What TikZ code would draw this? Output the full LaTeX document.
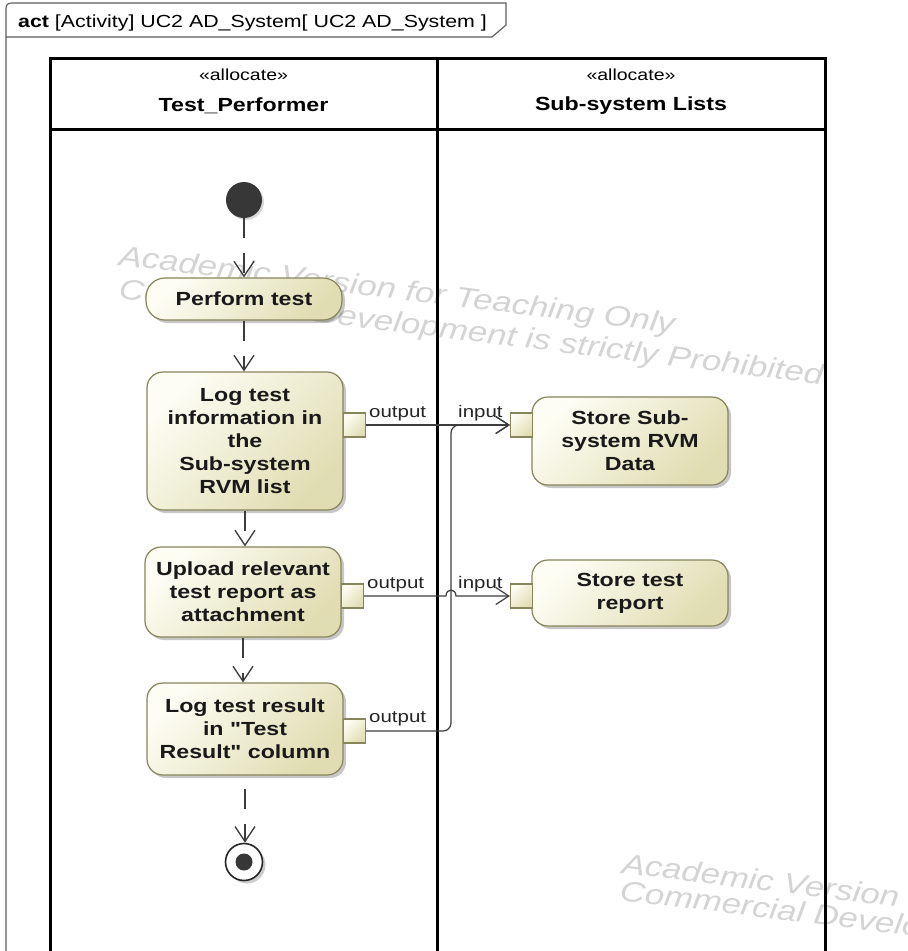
\documentclass[tikz,border=0pt]{standalone}
\usepackage{fontspec}
\setmainfont{Liberation Sans}[FakeStretch=1.22, Ligatures=TeXOff]
\usetikzlibrary{arrows.meta,shadows,calc}

\definecolor{actborder}{RGB}{135,133,92}
\definecolor{actlight}{RGB}{253,253,244}
\definecolor{actdark}{RGB}{224,221,178}
\definecolor{flowgray}{RGB}{60,60,60}
\definecolor{markgray}{RGB}{212,212,212}
\definecolor{framegray}{RGB}{95,95,95}
\definecolor{dotgray}{RGB}{55,55,55}

\tikzset{
  action/.style={draw=actborder, line width=1.2pt, rounded corners=16pt,
    top color=actlight, bottom color=actdark, shading angle=45,
    minimum width=196pt, align=center, inner sep=0pt, text=black!90,
    font=\fontsize{19}{23}\selectfont\bfseries,
    drop shadow={shadow xshift=3pt, shadow yshift=-3pt, fill=black, opacity=0.22}},
  portbox/.style={draw=actborder, line width=1.1pt, top color=actlight,
    bottom color=actdark, shading angle=45, minimum width=22pt,
    minimum height=24pt, inner sep=0pt},
  flow/.style={draw=flowgray, line width=1.3pt, dash pattern=on 20pt off 15pt,
    -{Straight Barb[length=15pt,width=20pt]}},
  objflow/.style={draw=flowgray, line width=1.2pt,
    -{Straight Barb[length=13pt,width=17pt]}},
  lane/.style={line width=3pt, black},
  pinlabel/.style={font=\fontsize{16.8}{20}\selectfont, text=black!85, inner sep=0pt},
  wmark/.style={font=\fontsize{28.5}{32}\selectfont\itshape, text=markgray,
    inner sep=0pt, rotate=-7, anchor=base west},
  stereo/.style={font=\fontsize{16}{19}\selectfont, inner sep=0pt},
  lanename/.style={font=\fontsize{19}{23}\selectfont\bfseries, inner sep=0pt}
}

\begin{document}
\begin{tikzpicture}[x=1pt, y=-1pt]
\useasboundingbox (0,0) rectangle (908,951);
\clip (0,0) rectangle (908,951);
\fill[white] (0,0) rectangle (908,951);

% watermark text behind everything
\node[wmark] (wmA1) at (118,265) {Academic Version for Teaching Only};
\node[wmark] (wmA2) at (118,298) {Commercial Development is strictly Prohibited};
\node[wmark] (wmB1) at (621,873) {Academic Version for Teaching Only};
\node[wmark] (wmB2) at (619,900) {Commercial Development is strictly Prohibited};

% diagram frame with its name tab
\draw[framegray, line width=1.2pt]
  (6,960) -- (6,13) .. controls (6,3) .. (16,3) -- (506,3) -- (506,25) -- (492,37) -- (6,37);
\node[anchor=base west, inner sep=0pt, font=\fontsize{17.5}{20}\selectfont] (title) at (18,27)
  {\textbf{act} [Activity] UC2 AD\_System[ UC2 AD\_System ]};

% swimlanes
\draw[lane] (50,960) -- (50,58) -- (825,58) -- (825,960);
\draw[lane] (50,129) -- (825,129);
\draw[lane] (437,58) -- (437,960);
\node[stereo] (stA) at (243.5,75) {«allocate»};
\node[lanename] (laneA) at (243.5,106) {Test\_Performer};
\node[stereo] (stB) at (631,75) {«allocate»};
\node[lanename] (laneB) at (631,106) {Sub-system Lists};

% initial and final nodes
\node[circle, fill=dotgray, minimum size=36pt, inner sep=0pt,
  drop shadow={shadow xshift=2pt, shadow yshift=-2pt, fill=black, opacity=0.15}] (start) at (244,200) {};
\node[circle, draw=black!85, line width=1.6pt, fill=white, minimum size=37pt, inner sep=0pt,
  drop shadow={shadow xshift=3pt, shadow yshift=-3pt, fill=black, opacity=0.2}] (finish) at (244,862) {};
\node[circle, fill=dotgray, minimum size=17pt, inner sep=0pt] (finishcore) at (finish.center) {};

% actions
\node[action, minimum height=42pt, rounded corners=19pt] (perform) at (244,299) {Perform test};
\node[action, minimum height=138pt] (loginfo) at (245,441)
  {Log test\\information in\\the\\Sub-system\\RVM list};
\node[action, minimum height=90pt] (upload) at (243,592)
  {Upload relevant\\test report as\\attachment};
\node[action, minimum height=92pt] (logresult) at (245,729)
  {Log test result\\in "Test\\Result" column};
\node[action, minimum height=88pt] (storervm) at (630,441)
  {Store Sub-\\system RVM\\Data};
\node[action, minimum height=66pt] (storerep) at (630,593)
  {Store test\\report};

% pins
\node[portbox, anchor=west] (outA) at (343,425) {};
\node[portbox, anchor=east] (inA) at (533,425) {};
\node[portbox, anchor=west] (outB) at (341,596) {};
\node[portbox, anchor=east] (inB) at (533,596) {};
\node[portbox, anchor=west] (outC) at (343,731) {};

\node[pinlabel, anchor=base west] (outAlab) at (369,417) {output};
\node[pinlabel, anchor=base west] (inAlab) at (458,417) {input};
\node[pinlabel, anchor=base west] (outBlab) at (367,588) {output};
\node[pinlabel, anchor=base west] (inBlab) at (458,588) {input};
\node[pinlabel, anchor=base west] (outClab) at (369,722) {output};

% control flows
\draw[flow] (start.south) -- (start.south |- perform.north);
\draw[flow] (perform.south) -- (perform.south |- loginfo.north);
\draw[flow] (loginfo.south) -- (loginfo.south |- upload.north);
\draw[flow] (upload.south) -- (upload.south |- logresult.north);
\draw[flow, dash phase=-13pt] (logresult.south) -- (logresult.south |- finish.north);

% object flows
\coordinate (hopL) at (446,596);
\coordinate (hopR) at (456,596);
\coordinate (bendlow) at (451,731);
\coordinate (bendhigh) at (451,425);
\draw[objflow] (outA.east) -- (inA.west);
\draw[objflow] (outB.east) -- (hopL) .. controls ($(hopL)+(0,-8)$) and ($(hopR)+(0,-8)$) .. (hopR) -- (inB.west);
\draw[objflow, rounded corners=8pt] (outC.east) -- (bendlow) -- (bendhigh) -- (inA.west);
\end{tikzpicture}
\end{document}
